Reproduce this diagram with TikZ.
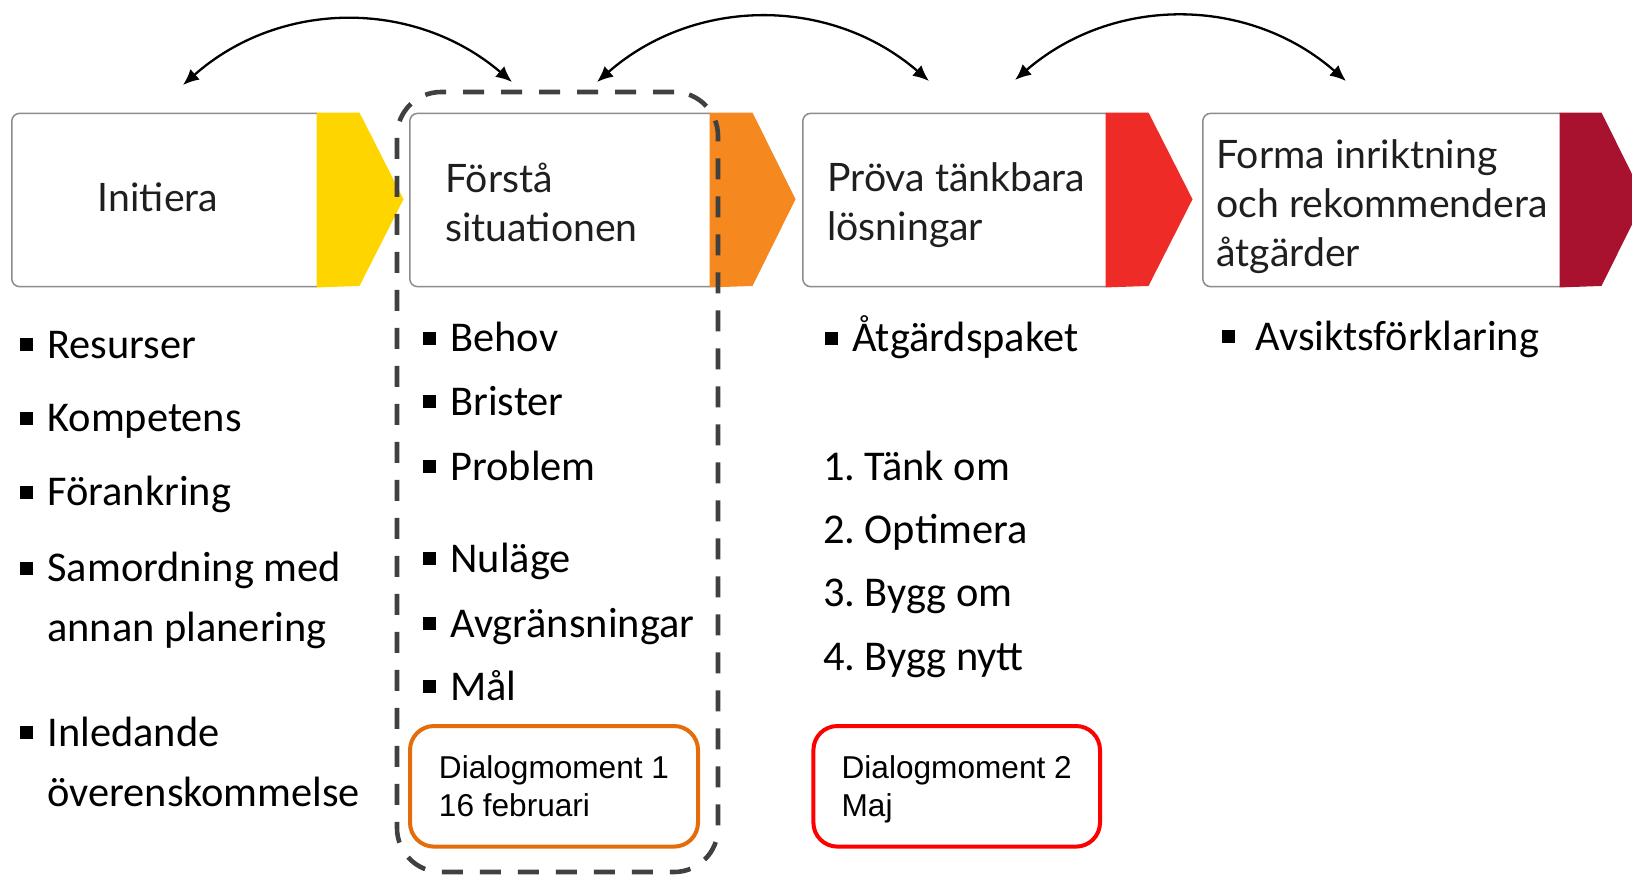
\documentclass[tikz,border=0pt]{standalone}
\usepackage{fontspec}
\setmainfont{Carlito}
\newfontfamily\headfont{Lato}
\newfontfamily\arialfont{Liberation Sans}
\usetikzlibrary{arrows.meta, positioning}
\usepackage{xcolor}

\definecolor{gulc}{HTML}{FFD500}
\definecolor{orangec}{HTML}{F5881F}
\definecolor{rodc}{HTML}{EE2B26}
\definecolor{vinrodc}{HTML}{A8122E}
\definecolor{dlgorange}{HTML}{E46C0A}

\newcommand{\sq}{\rule[3.5pt]{6.5pt}{6.5pt}}
\newcommand{\stacked}[1]{\begin{tabular}[t]{@{}l@{}}#1\end{tabular}}

\begin{document}
\frenchspacing
\begin{tikzpicture}[x=0.5pt, y=-0.5pt]
                \tikzstyle{stage} = [shape=rectangle, draw=black!45, line width=0.75pt, rounded corners=4pt, fill=white, minimum height=86.7pt, inner sep=0pt, anchor=west];
                \tikzstyle{stagetext} = [font=\headfont\fontsize{19.6}{24.7}\selectfont, text=black!88, inner sep=0pt, anchor=base west];
                \tikzstyle{item} = [font=\fontsize{21.2}{30}\selectfont, inner sep=0pt, anchor=base west];
                \tikzstyle{dialog} = [shape=rectangle, rounded corners=12pt, line width=2pt, minimum height=60.3pt, align=left, font=\arialfont\fontsize{15.8}{19}\selectfont, text depth=0pt];
                \tikzstyle{pil} = [{Latex[length=8pt,width=7pt]}-{Latex[length=8pt,width=7pt]}, line width=1.15pt, bend left=41];

                \useasboundingbox (0,0) rectangle (1632,875);

                % steg
                \node[stage, minimum width=156pt](s1) at (11,200) {};
                \node[stage, minimum width=153.5pt](s2) at (409,200) {};
                \node[stage, minimum width=155pt](s3) at (802,200) {};
                \node[stage, minimum width=182pt](s4) at (1202,200) {};

                \fill[gulc] ([xshift=-4pt]s1.north east) -- ++(43,0) -- ++(44,86.7) -- ++(-44,86.7) -- ([xshift=-4pt]s1.south east) -- cycle;
                \fill[orangec] ([xshift=-4pt]s2.north east) -- ++(43,0) -- ++(43,86.7) -- ++(-43,86.7) -- ([xshift=-4pt]s2.south east) -- cycle;
                \fill[rodc] ([xshift=-4pt]s3.north east) -- ++(43,0) -- ++(44,86.7) -- ++(-44,86.7) -- ([xshift=-4pt]s3.south east) -- cycle;
                \fill[vinrodc] ([xshift=-4pt]s4.north east) -- ++(42,0) -- ++(43,86.7) -- ++(-43,86.7) -- ([xshift=-4pt]s4.south east) -- cycle;

                \node[stagetext, anchor=base](t1) at (158,211.7) {Initiera};
                \node[stagetext](t2) at (445,192.5) {\stacked{Förstå\\situationen}};
                \node[stagetext](t3) at (827,191) {\stacked{Pröva tänkbara\\lösningar}};
                \node[stagetext](t4) at (1216,168) {\stacked{Forma inriktning\\och rekommendera\\åtgärder}};

                % punkter
                \node[item](ini1) at (20,358) {\sq\hspace{7pt}Resurser};
                \node[item](ini2) at (20,431.7) {\sq\hspace{7pt}Kompetens};
                \node[item](ini3) at (20,505.5) {\sq\hspace{7pt}Förankring};
                \node[item](ini4) at (20,581.7) {\sq\hspace{7pt}\stacked{Samordning med\\annan planering}};
                \node[item](ini5) at (20,746) {\sq\hspace{7pt}\stacked{Inledande\\överenskommelse}};

                \node[item](for1) at (423,351.7) {\sq\hspace{7pt}Behov};
                \node[item](for2) at (423,415) {\sq\hspace{7pt}Brister};
                \node[item](for3) at (423,480) {\sq\hspace{7pt}Problem};
                \node[item](for4) at (423,572) {\sq\hspace{7pt}Nuläge};
                \node[item](for5) at (423,637) {\sq\hspace{7pt}Avgränsningar};
                \node[item](for6) at (423,700) {\sq\hspace{7pt}Mål};

                \node[item](pro1) at (825,351.7) {\sq\hspace{7pt}Åtgärdspaket};
                \node[item](pro2) at (822.7,480) {1. Tänk om};
                \node[item](pro3) at (822.7,543.3) {2. Optimera};
                \node[item](pro4) at (822.7,606.7) {3. Bygg om};
                \node[item](pro5) at (822.7,670) {4. Bygg nytt};

                \node[item](avs1) at (1222,350) {\sq\hspace{10pt}Avsiktsförklaring};

                % dialogmoment
                \node[dialog, draw=dlgorange, minimum width=144pt](d1) at (554,786.3) {Dialogmoment 1\\16 februari};
                \node[dialog, draw=red, minimum width=143.3pt](d2) at (956.7,786.3) {Dialogmoment 2\\Maj};

                \node[shape=rectangle, draw=black!75, line width=2.3pt, dash pattern=on 10.5pt off 8.5pt, rounded corners=22pt, minimum width=160.5pt, minimum height=390pt](fokus) at (557.5,482) {};

                % pilar
                \coordinate (p1) at (183,85);
                \coordinate (q1) at (512,82);
                \coordinate (p2) at (597,82);
                \coordinate (q2) at (929,81);
                \coordinate (p3) at (1015,80);
                \coordinate (q3) at (1346,81);

                \draw
                    (p1) edge[pil] (q1)
                    (p2) edge[pil] (q2)
                    (p3) edge[pil] (q3)
                ;
            \end{tikzpicture}
\end{document}
